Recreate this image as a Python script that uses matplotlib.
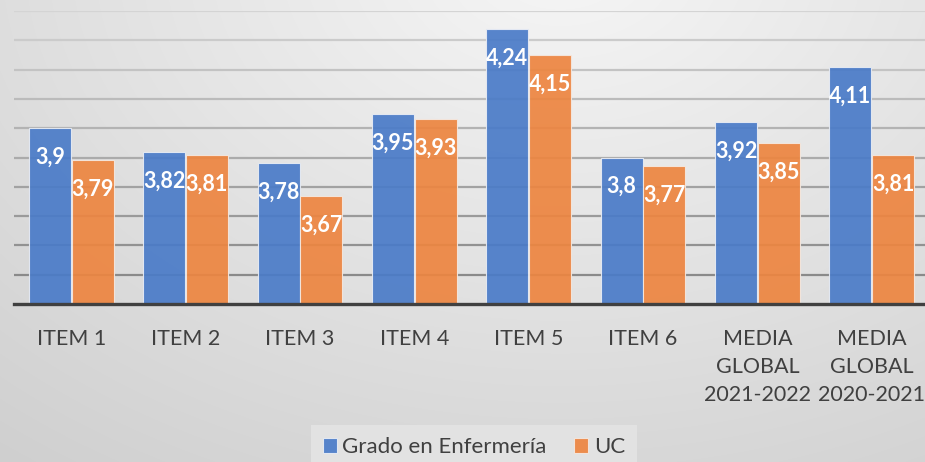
import matplotlib.pyplot as plt
import numpy as np

categorias = ['ITEM 1', 'ITEM 2', 'ITEM 3', 'ITEM 4', 'ITEM 5', 'ITEM 6',
              'MEDIA\nGLOBAL\n2021-2022', 'MEDIA\nGLOBAL\n2020-2021']
grado_enfermeria = [3.9, 3.82, 3.78, 3.95, 4.24, 3.8, 3.92, 4.11]
uc = [3.79, 3.81, 3.67, 3.93, 4.15, 3.77, 3.85, 3.81]
series = ['Grado en Enfermería', 'UC']

plt.rcParams['font.family'] = ['Lato', 'DejaVu Sans']

fig = plt.figure(figsize=(9.25, 4.62), dpi=100)

# fondo degradado (radial, claro arriba al centro)
bg = fig.add_axes([0, 0, 1, 1], zorder=-10)
W, H = 925, 462
xx, yy = np.meshgrid(np.arange(W), np.arange(H))
d = np.sqrt((xx - 560) ** 2 + (1.42 * (yy + 40)) ** 2)
inten = np.clip(246 - 0.043 * d, 0, 255) / 255.0
bg.imshow(np.dstack([inten] * 3), aspect='auto', extent=(0, 1, 0, 1))
bg.axis('off')

ax = fig.add_axes([14 / W, 1 - 304 / H, (929 - 14) / W, (304 - 11) / H])
ax.patch.set_alpha(0)

x = np.arange(len(categorias))
ancho = 0.368
off = 0.187
azul = '#4a7bc8'
naranja = '#ed8540'

b1 = ax.bar(x - off, grado_enfermeria, ancho, color=azul, alpha=0.92,
            edgecolor='#e8ecf4', linewidth=0.8, zorder=3)
b2 = ax.bar(x + off, uc, ancho, color=naranja, alpha=0.92,
            edgecolor='#f4e8e0', linewidth=0.8, zorder=3)

for barras, vals in [(b1, grado_enfermeria), (b2, uc)]:
    for r, v in zip(barras, vals):
        ax.annotate(str(v).replace('.', ','),
                    xy=(r.get_x() + r.get_width() / 2, v),
                    xytext=(0, -21), textcoords='offset points',
                    ha='center', va='center', color='white',
                    fontsize=15.5, fontweight='bold', zorder=5)

ax.set_ylim(3.3, 4.3)
ax.set_xlim(-0.5, len(categorias) - 0.5)
ax.set_yticks(np.arange(3.4, 4.31, 0.1))
ax.set_yticklabels([])
ax.tick_params(axis='y', length=0)
ax.tick_params(axis='x', length=0, pad=18, labelsize=15.5, colors='#404040')
ax.set_xticks(x)
ax.set_xticklabels(categorias, linespacing=1.5)

# lineas de la cuadricula, mas oscuras abajo
ys = np.arange(3.4, 4.31, 0.1)
for yv in ys:
    t = (yv - 3.4) / 0.9
    c = 0.54 + t * (0.83 - 0.54)
    ax.axhline(yv, color=(c, c, c), lw=1.6, zorder=1)

for s in ['top', 'right', 'left']:
    ax.spines[s].set_visible(False)
ax.spines['bottom'].set_color('#404040')
ax.spines['bottom'].set_linewidth(2.4)
ax.spines['bottom'].set_zorder(4)

leg = fig.legend([b1, b2], series, loc='upper center',
                 bbox_to_anchor=(474 / W, 1 - 425 / H), ncol=2,
                 fontsize=16, frameon=True, fancybox=False,
                 handlelength=0.62, handleheight=0.62, handletextpad=0.25,
                 columnspacing=1.25, borderpad=0.55, borderaxespad=0)
leg.get_frame().set_facecolor('#e2e2e2')
leg.get_frame().set_edgecolor('none')
leg.get_frame().set_alpha(1)
for t in leg.get_texts():
    t.set_color('#404040')

fig.savefig('out.png', dpi=100)
